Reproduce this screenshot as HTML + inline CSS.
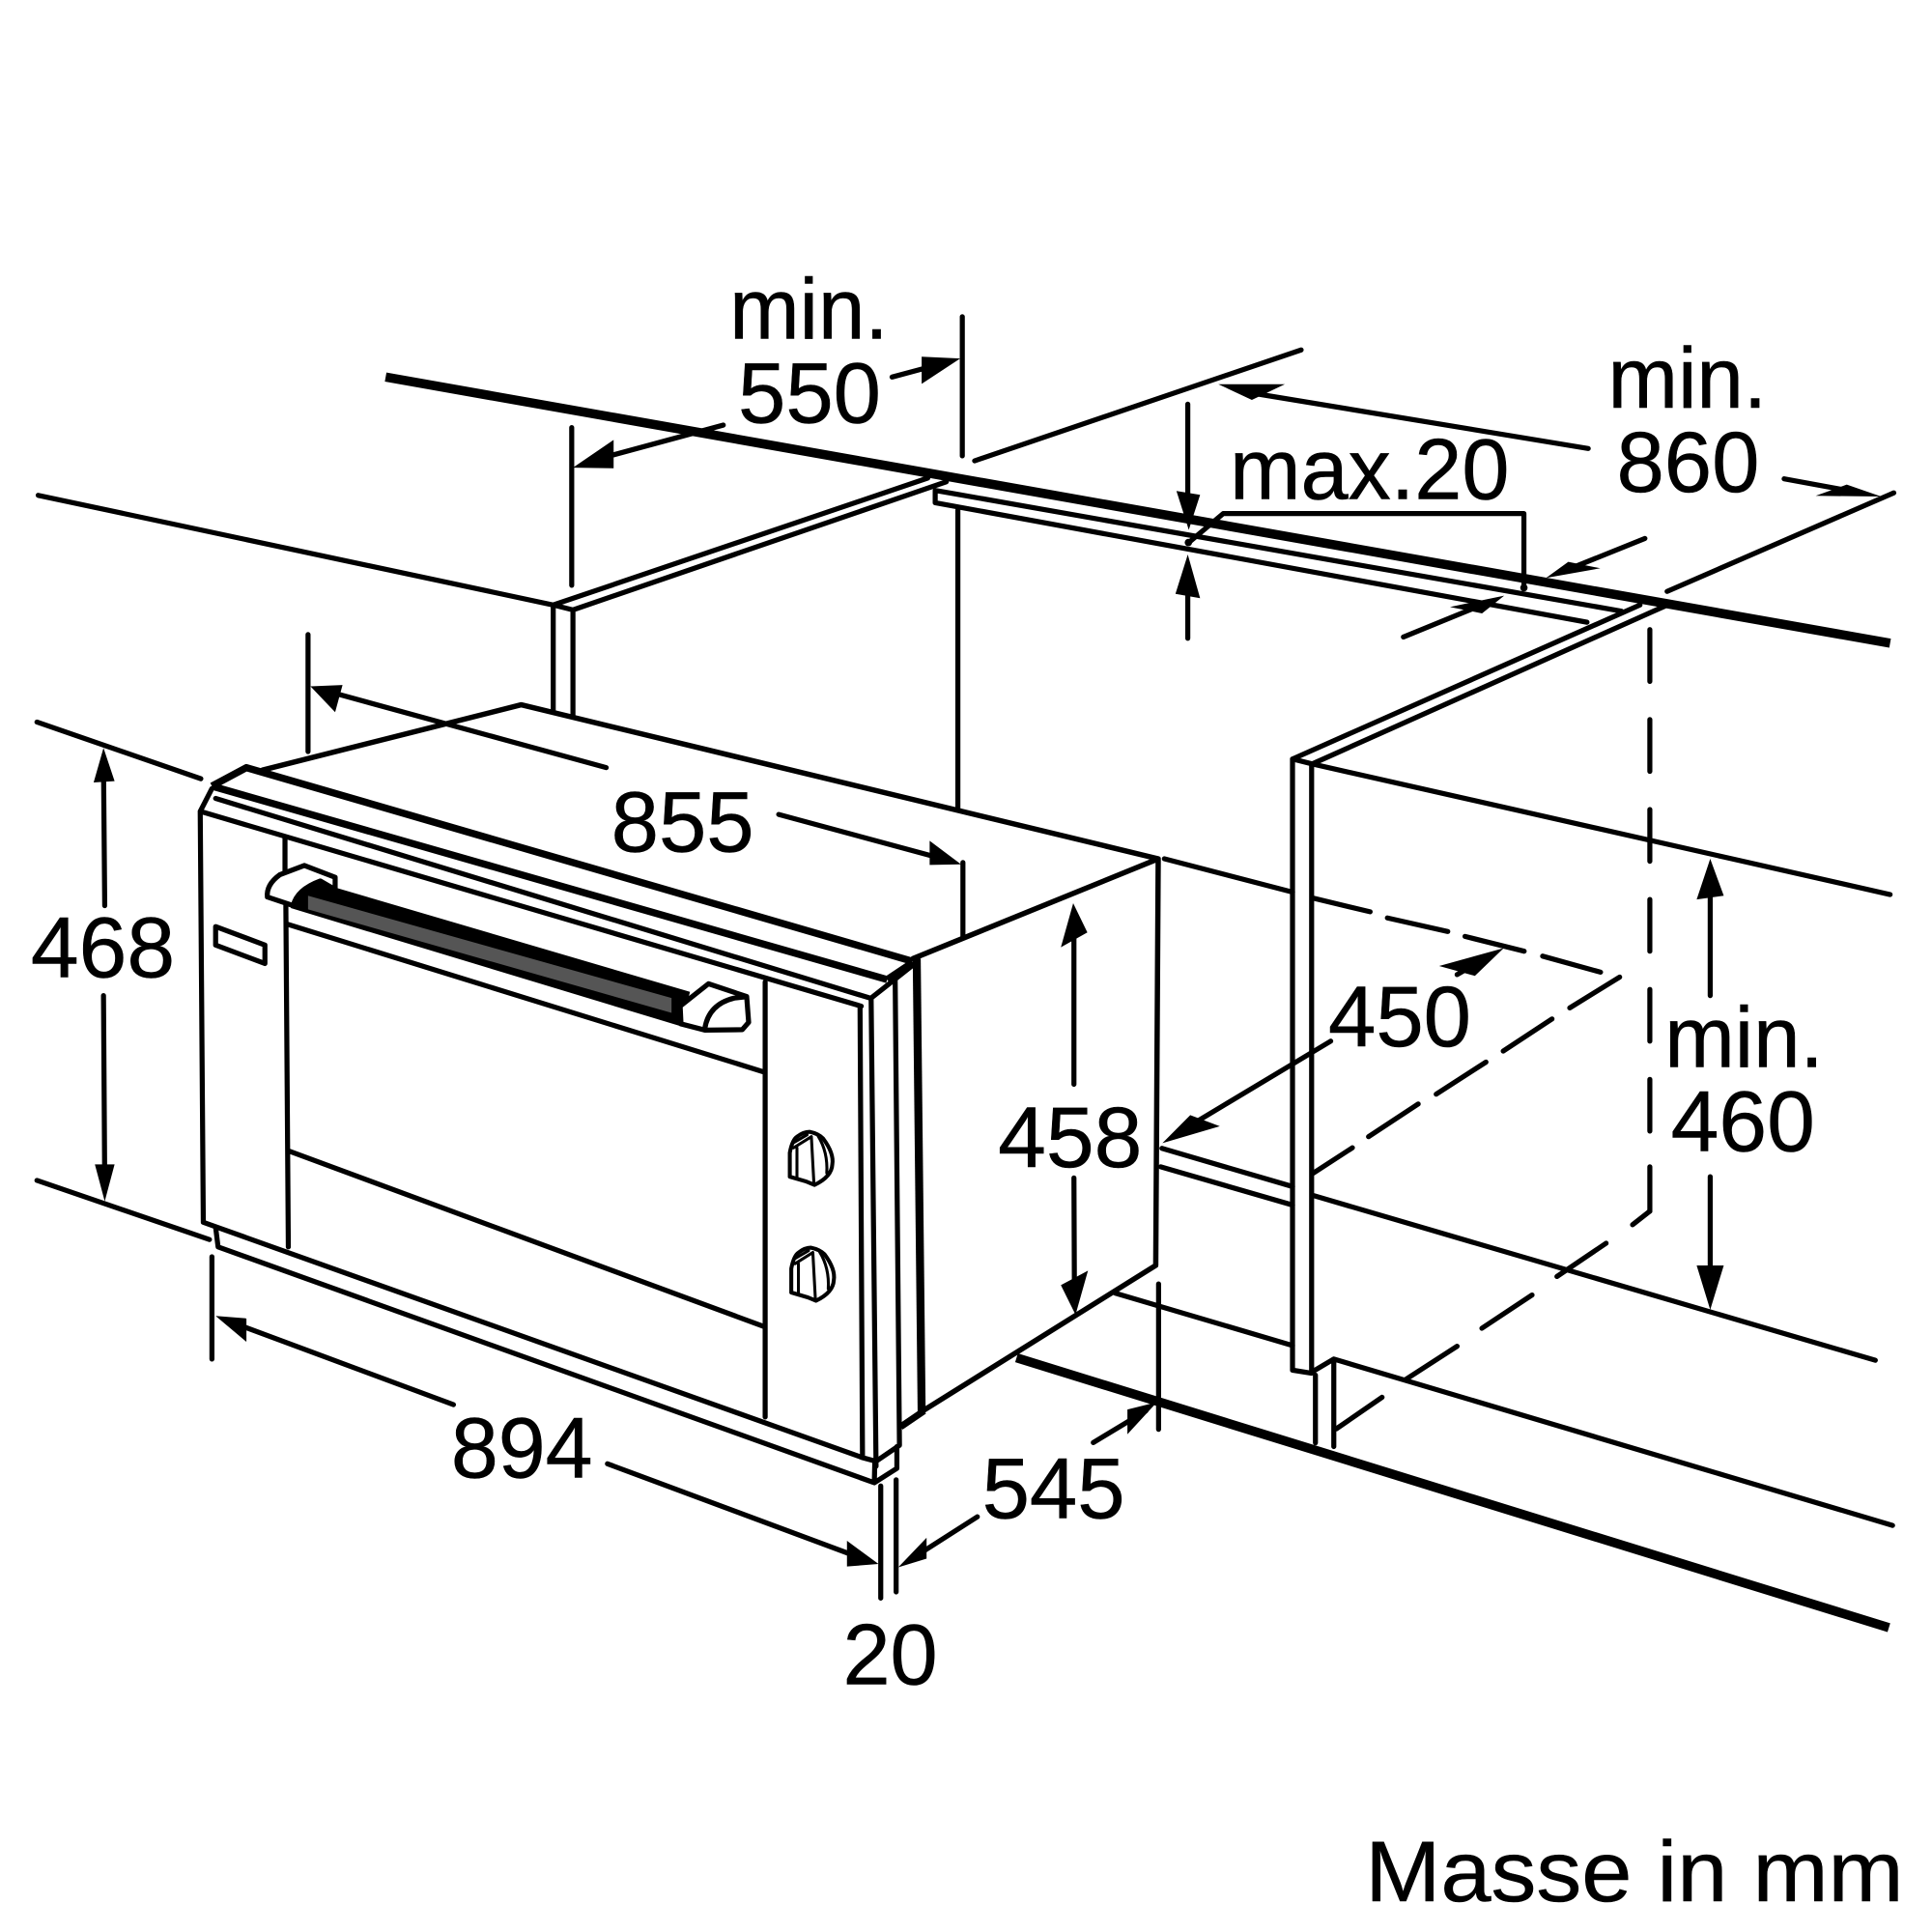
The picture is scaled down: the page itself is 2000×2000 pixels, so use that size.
<!DOCTYPE html>
<html><head><meta charset="utf-8"><style>
html,body{margin:0;padding:0;background:#fff}
svg{display:block}
text{font-family:"Liberation Sans",Arial,sans-serif;font-size:70px;fill:#000;stroke:#000;stroke-width:.4}
.l{fill:none;stroke:#000;stroke-width:4.1;stroke-linecap:round;stroke-linejoin:round}
.t{fill:none;stroke:#000;stroke-width:7.5;stroke-linecap:butt;stroke-linejoin:round}
.a{fill:#000;stroke:none}
</style></head><body>
<svg width="2000" height="2000" viewBox="0 0 1568 1568" xmlns="http://www.w3.org/2000/svg">
<rect width="1568" height="1568" fill="#fff"/>
<g class="l">
<path d="M31 402L449 491L753 388M465 495L768 391M449 491L465 495M449 491V580M465 495V582"/>
<path d="M759 398V408L1288 505M759 398L1316 496"/>
<path d="M1049 616L1331 491M1065 620L1351 492M1049 616L1065 620L1534 726"/>
<path d="M777.4 414V656"/>
<path d="M1049 616V1112L1064.5 1114.5V620"/>
<path d="M1067.6 1116V1171M1082.5 1103V1174M1064 1114L1082.5 1103L1536 1238"/>
<path d="M943 932L1049 963M942 947L1049 978M1065 970L1522 1104M905 1049.5L1049 1092"/>
<path d="M945 697L1049 724"/>
<!-- dashes -->
<path d="M1339 511V553M1339 584V626M1339 657V699M1339 730V772M1339 803V845M1339 876V918M1339 947V983"/>
<path d="M1339 983L1325 994M1303.5 1009L1263.6 1036M1243.4 1051L1202.7 1078M1182.6 1092.6L1140.8 1119.6M1121.7 1134L1084.6 1159.6"/>
<path d="M1066 729L1112 740M1126 745L1175 756M1189 760L1237 772M1252 776L1299 789"/>
<path d="M1314.5 793L1274 818M1259.6 827L1220 853M1206 862L1165.6 888M1151 896L1110.7 922.5M1097.6 931.5L1066 952"/>
</g>
<path class="t" d="M313 306L1534 522M825 1102L1533 1321"/>

<!-- oven -->
<g fill="#fff" stroke="none"><path d="M213 625L423 572L940 697L938 1026L735 1158L730 785Z"/></g>
<path class="l" style="stroke-width:4.3" d="M213 625L423 572L940 697L938 1027L747.5 1146M741 778L940 697"/>
<path class="t" style="stroke-width:5.8" d="M172 638L200 623L740 780M172 638L720 795M720 795L741 781"/>
<path class="l" d="M172 640L162.5 658.5L165 992L700 1183M175 648L706 810M162.5 658.5L699 816.6"/>
<path class="l" d="M231.3 680V708M232 735L234 1012M233 750L620 870M234 934L621 1077M621 797V1150"/>
<path class="l" d="M698 816.6L700 1183M707 810L711 1190M707 810L740 784M726.5 794L730 1173L711 1186M700 1183L711 1186"/>
<path class="t" style="stroke-width:6.5" d="M744 778L748 1146"/>
<path class="t" style="stroke-width:5.5" d="M731 1158L750 1145"/>
<path class="l" d="M175 996L177 1012L709.6 1203.4L727.9 1191.7V1174M710 1186.5L709.6 1203"/>
<path class="l" d="M175 752L215 767V782L175 767Z"/>
<!-- handle -->
<path d="M236 737Q238 720 254 715L560 805L553 833Z" fill="#000"/>
<path d="M250 727L545 810V822L250 738Z" fill="#555"/>
<path class="l" style="fill:#fff" d="M238 735L217 728Q216 718 227 710L247 702.4L272 712V722L260 715Q241 722 238 735Z"/>
<path class="l" style="fill:#fff" d="M552 816.6L575 798.4L606 808.8L607.6 829.7L602.4 835.7L572 836L552.7 831Z"/>
<path class="l" d="M605 809L596 810Q575 815 572 835"/>
<!-- knobs -->
<g class="l" style="stroke-width:3.2">
<path d="M641 955V935.6Q643 925 647 922.5Q652 918.6 657 918.6Q664 920 668 924Q677 936 675.5 945Q675 955 661 961.7L654.6 959Z" style="fill:#fff"/>
<path d="M658.5 922.5L660.6 961M644 931.6L658.5 922.5M646.8 931.6V956.4M643 928L655 921M664 922Q672 935 671 952" style="stroke-width:2.4"/>
</g>
<g class="l" style="stroke-width:3.2" transform="translate(1.2 94)">
<path d="M641 955V935.6Q643 925 647 922.5Q652 918.6 657 918.6Q664 920 668 924Q677 936 675.5 945Q675 955 661 961.7L654.6 959Z" style="fill:#fff"/>
<path d="M658.5 922.5L660.6 961M644 931.6L658.5 922.5M646.8 931.6V956.4M643 928L655 921M664 922Q672 935 671 952" style="stroke-width:2.4"/>
</g>

<!-- dimension lines -->
<g class="l">
<path d="M781.5 700V760"/>
<path d="M464 347V475M781 257V370M480 374L587 345M724 306L765 295"/>
<path d="M791 374L1056 284M1353 480L1537 400M1010 318L1289 364M1448 388.6L1510 400"/>
<path d="M964 328V410M964 470V518"/>
<path d="M964.8 440.3L992.8 416.8H1236.8V477"/>
<path d="M1139 517L1205 490M1335 437L1268 464"/>
<path d="M250 515V610M262 560L492 623M632 661L765 697"/>
<path d="M30 586L163 632M30 958L170 1006M84 620L85 735M84 808L85 960"/>
<path d="M871.6 745V880M871.6 956L872 1050"/>
<path d="M172 1020V1103M185 1072L368 1140M493 1188L700 1265M714.8 1206V1297M727.3 1201V1292"/>
<path d="M940.3 1042V1160M887.3 1170.8L930 1145M740 1265L793.2 1231"/>
<path d="M955 920L1080 845M1182.6 791L1210 775"/>
<path d="M1388 715V808M1388 955V1045"/>
</g>
<g class="a">
<circle cx="964.5" cy="440.3" r="3"/><circle cx="1236.8" cy="477" r="3"/>
<path d="M465 379.6L498 357V380Z"/>
<path d="M779.3 291L748 289.5V311.5Z"/>
<path d="M988.8 311.8H1042.8L1016 324.6Z"/>
<path d="M1526.8 403L1498.8 393.3L1473.6 402.4Z"/>
<path d="M964.8 430L954.8 398.5L974 401.6Z"/>
<path d="M964 450L954 482L974 485.5Z"/>
<path d="M1220.8 483.4L1176.8 492.6L1202.8 497.8Z"/>
<path d="M1254.8 469L1272.8 456L1298.8 461.2Z"/>
<path d="M252 557L278 556L272 578Z"/>
<path d="M780 701.5L754.5 682.4V702Z"/>
<path d="M84 607L76 635L93 634Z"/>
<path d="M85 975L77 945H93Z"/>
<path d="M871 733L861 768.8L882.5 756.8Z"/>
<path d="M872.9 1067L861 1043L883 1031.3Z"/>
<path d="M175 1068L200 1070V1089Z"/>
<path d="M713 1269.3L687.4 1250.5V1271.4Z"/>
<path d="M939 1138L915 1144V1164Z"/>
<path d="M729 1272L752 1248V1265Z"/>
<path d="M943.4 927.8L966 905L990 914Z"/>
<path d="M1220.4 769.5L1168 784L1197 792Z"/>
<path d="M1388 697L1377 730L1399 727Z"/>
<path d="M1388 1063L1377 1027H1399Z"/>
</g>

<!-- labels -->
<text x="592" y="275" textLength="129" lengthAdjust="spacingAndGlyphs">min.</text>
<text x="599" y="343" textLength="116" lengthAdjust="spacingAndGlyphs">550</text>
<text x="1305" y="331" textLength="129" lengthAdjust="spacingAndGlyphs">min.</text>
<text x="1312" y="399" textLength="116" lengthAdjust="spacingAndGlyphs">860</text>
<text x="998" y="405" textLength="227" lengthAdjust="spacingAndGlyphs">max.20</text>
<text x="496" y="691" textLength="116" lengthAdjust="spacingAndGlyphs">855</text>
<text x="25" y="793" textLength="117" lengthAdjust="spacingAndGlyphs">468</text>
<text x="810" y="947" textLength="117" lengthAdjust="spacingAndGlyphs">458</text>
<text x="1078" y="849" textLength="116" lengthAdjust="spacingAndGlyphs">450</text>
<text x="1351" y="866" textLength="129" lengthAdjust="spacingAndGlyphs">min.</text>
<text x="1356" y="934" textLength="117" lengthAdjust="spacingAndGlyphs">460</text>
<text x="366" y="1199" textLength="115" lengthAdjust="spacingAndGlyphs">894</text>
<text x="797" y="1232" textLength="116" lengthAdjust="spacingAndGlyphs">545</text>
<text x="684" y="1367" textLength="77" lengthAdjust="spacingAndGlyphs">20</text>
<text x="1108" y="1543" textLength="437" lengthAdjust="spacingAndGlyphs">Masse in mm</text>
</svg>
</body></html>
